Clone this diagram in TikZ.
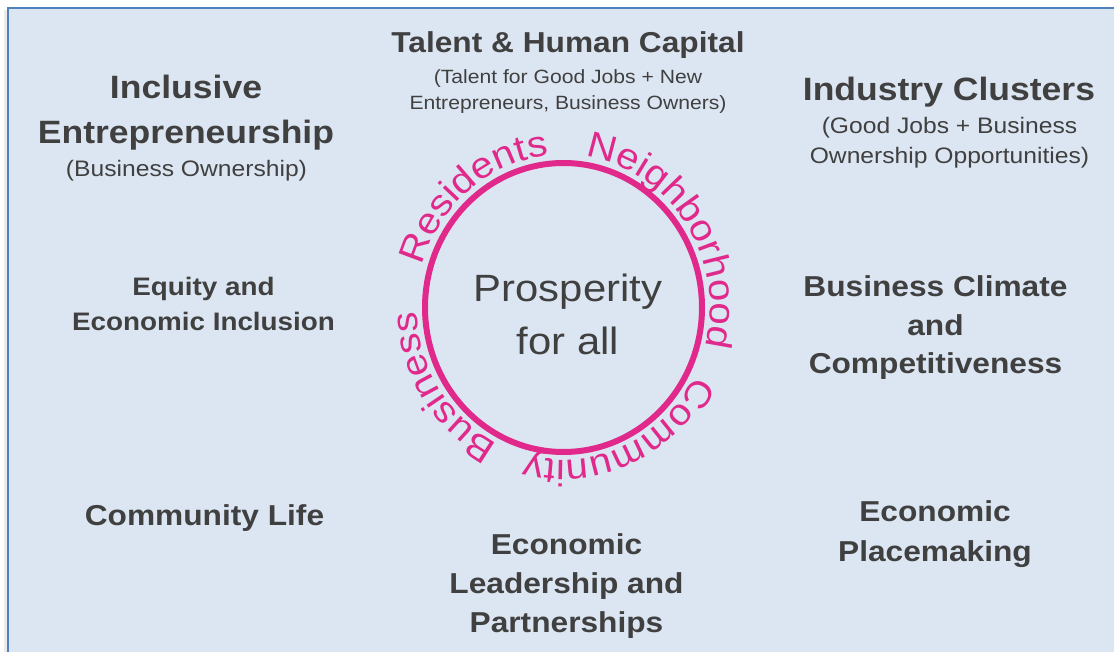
\documentclass[tikz,border=0pt]{standalone}
\usepackage{fontspec}
\setmainfont{Liberation Sans}[FakeStretch=1.1]
\usetikzlibrary{decorations.text}
\definecolor{bgc}{HTML}{DCE6F2}
\definecolor{framec}{HTML}{4F81BD}
\definecolor{txtc}{HTML}{404040}
\definecolor{ringc}{HTML}{E0298A}
\newcommand\ringfont{\fontsize{36.5}{36.5}\selectfont}
\begin{document}
\begin{tikzpicture}[x=1pt,y=1pt,
  basetxt/.style={text=txtc, inner sep=0pt, align=center},
  head/.style={basetxt, font=\bfseries\fontsize{32.3}{45}\selectfont},
  item/.style={basetxt, font=\bfseries\fontsize{28.8}{39}\selectfont},
  eqitem/.style={basetxt, font=\bfseries\fontsize{25.3}{35}\selectfont},
  sub/.style={basetxt, font=\fontsize{22.4}{30}\selectfont},
  tsub/.style={basetxt, font=\fontsize{19.2}{26.7}\selectfont},
  centre/.style={basetxt, font=\fontsize{38}{53}\selectfont},
  ringword/.style={decorate, decoration={text along path, text={|\ringfont|#1}, text align=center, text color=ringc}}
]
\useasboundingbox (0,0) rectangle (1114,-652);
\fill[white] (0,0) rectangle (1114,-652);
\fill[black!8] (4,-10) rectangle (7,-660);
\draw[framec, line width=2pt, fill=bgc] (7.8,-7.8) rectangle (1124,-664);

% ring
\coordinate (c) at (563.5,-307.5);
\draw[ringc, line width=6pt] (c) ellipse [x radius=138.5, y radius=144.5];
\path[shift={(c)}, ringword=Residents] (189.5:146.5 and 152.5) arc[start angle=189.5, end angle=69.5, x radius=146.5, y radius=152.5];
\path[shift={(c)}, ringword=Neighborhood] (93.5:146.5 and 152.5) arc[start angle=93.5, end angle=-26.5, x radius=146.5, y radius=152.5];
\path[shift={(c)}, ringword=Community] (-6:146.5 and 152.5) arc[start angle=-6, end angle=-126, x radius=146.5, y radius=152.5];
\path[shift={(c)}, ringword=Business] (-87:146.5 and 152.5) arc[start angle=-87, end angle=-207, x radius=146.5, y radius=152.5];

\node[centre] (pros) at (568,-314.9) {Prosperity\\for all};

% labels
\node[head] (incl) at (186,-112.85) {Inclusive\\Entrepreneurship};
\node[sub, anchor=base] (inclsub) at (186.5,-177) {(Business Ownership)};
\node[item, anchor=base] (talent) at (568,-52.3) {Talent \& Human Capital};
\node[tsub] (talentsub) at (568,-91.6) {(Talent for Good Jobs + New\\Entrepreneurs, Business Owners)};
\node[head, anchor=base] (ind) at (949,-100.5) {Industry Clusters};
\node[sub] (indsub) at (949.5,-142.5) {(Good Jobs + Business\\Ownership Opportunities)};
\node[eqitem] (equity) at (203.5,-303.5) {Equity and\\Economic Inclusion};
\node[item, font=\bfseries\fontsize{28.8}{38.3}\selectfont] (climate) at (935.5,-327.7) {Business Climate\\and\\Competitiveness};
\node[item, anchor=base] (life) at (204.5,-525) {Community Life};
\node[item] (lead) at (566.5,-586.4) {Economic\\Leadership and\\Partnerships};
\node[item, font=\bfseries\fontsize{28.8}{40}\selectfont] (place) at (935,-534.2) {Economic\\Placemaking};
\end{tikzpicture}
\end{document}
